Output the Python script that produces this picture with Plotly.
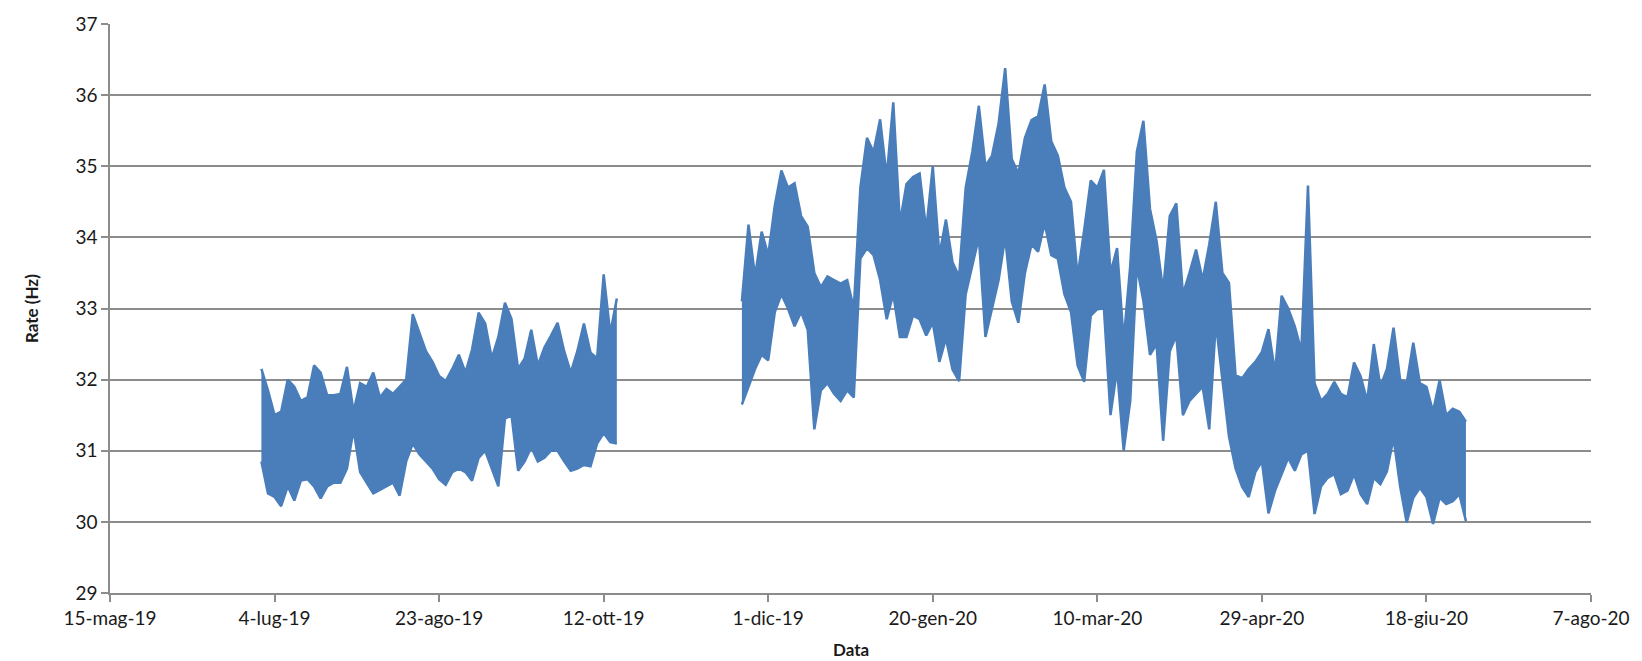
import pandas as pd
import plotly.graph_objects as go

# Rate envelope (max / min over each 2-day bin), Hz
seg1_start = "2019-06-30"
seg1_hi = [32.15, 31.85, 31.5, 31.55, 32.0, 31.9, 31.7, 31.75, 32.2, 32.1,
           31.78, 31.78, 31.8, 32.18, 31.55, 31.95, 31.9, 32.1, 31.75, 31.87,
           31.8, 31.9, 32.0, 32.92, 32.65, 32.4, 32.25, 32.05, 31.98, 32.15,
           32.35, 32.1, 32.42, 32.94, 32.79, 32.3, 32.6, 33.08, 32.85, 32.15,
           32.3, 32.7, 32.2, 32.45, 32.62, 32.8, 32.4, 32.1, 32.4, 32.79,
           32.38, 32.3, 33.48, 32.65, 33.14]
seg1_lo = [30.85, 30.4, 30.35, 30.22, 30.5, 30.3, 30.58, 30.6, 30.5, 30.33,
           30.5, 30.55, 30.55, 30.75, 31.3, 30.7, 30.55, 30.4, 30.45, 30.5,
           30.55, 30.37, 30.85, 31.1, 30.95, 30.85, 30.75, 30.6, 30.52, 30.7,
           30.75, 30.7, 30.58, 30.9, 31.0, 30.75, 30.5, 31.45, 31.5, 30.72,
           30.85, 31.05, 30.85, 30.9, 31.0, 31.0, 30.85, 30.72, 30.75, 30.8,
           30.78, 31.1, 31.25, 31.12, 31.1]

seg2_start = "2019-11-23"
seg2_hi = [33.1, 34.18, 33.45, 34.08, 33.75, 34.45, 34.94, 34.7, 34.76, 34.3,
           34.15, 33.5, 33.3, 33.45, 33.4, 33.35, 33.4, 33.0, 34.7, 35.4,
           35.2, 35.66, 34.85, 35.9, 34.2, 34.75, 34.85, 34.9,
           34.1, 35.0, 33.75, 34.25, 33.65, 33.45, 34.7, 35.2, 35.85, 35.0,
           35.15, 35.6, 36.38, 35.1, 34.9, 35.4, 35.65, 35.7, 36.15, 35.35,
           35.15, 34.7, 34.5, 33.45, 34.1, 34.8, 34.7, 34.95,
           33.5, 33.85, 32.55, 33.6, 35.2, 35.64, 34.4, 33.95, 33.25, 34.3,
           34.48, 33.2, 33.5, 33.83, 33.4, 33.9, 34.5, 33.5, 33.36, 32.06,
           32.02, 32.15, 32.25, 32.39, 32.71, 32.1, 33.18, 33.0, 32.75,
           32.4, 34.73, 31.95, 31.7, 31.8, 31.97, 31.8, 31.75, 32.24, 32.05,
           31.7, 32.5, 31.9, 32.15, 32.73, 32.0, 31.95, 32.52, 31.95, 31.9,
           31.55, 31.99, 31.5, 31.59, 31.55, 31.41]
seg2_lo = [31.65, 31.9, 32.15, 32.35, 32.27, 32.95, 33.2, 33.0, 32.75, 32.95,
           32.7, 31.3, 31.85, 31.95, 31.8, 31.7, 31.85, 31.75, 33.7, 33.85,
           33.75, 33.4, 32.85, 33.2, 32.6, 32.6, 32.9, 32.85,
           32.62, 32.8, 32.25, 32.58, 32.14, 31.98, 33.2, 33.6, 34.0, 32.6,
           33.0, 33.4, 34.0, 33.1, 32.8, 33.5, 33.9, 33.8, 34.2, 33.75,
           33.7, 33.2, 32.95, 32.2, 31.97, 32.9, 32.99, 33.0,
           31.5, 32.15, 31.0, 31.7, 33.6, 33.1, 32.35, 32.5, 31.14, 32.4,
           32.62, 31.5, 31.7, 31.8, 31.9, 31.3, 32.8, 32.0, 31.2, 30.75,
           30.49, 30.35, 30.7, 30.85, 30.12, 30.44, 30.67, 30.9, 30.72,
           30.95, 31.0, 30.11, 30.5, 30.62, 30.67, 30.39, 30.44, 30.67, 30.39,
           30.25, 30.62, 30.53, 30.71, 31.18, 30.5, 29.99, 30.34, 30.48, 30.35,
           29.97, 30.34, 30.25, 30.29, 30.39, 30.01]

tick_dates = ["2019-05-15", "2019-07-04", "2019-08-23", "2019-10-12", "2019-12-01",
              "2020-01-20", "2020-03-10", "2020-04-29", "2020-06-18", "2020-08-07"]
tick_labels = ["15-mag-19", "4-lug-19", "23-ago-19", "12-ott-19", "1-dic-19",
               "20-gen-20", "10-mar-20", "29-apr-20", "18-giu-20", "7-ago-20"]
y_ticks = [29, 30, 31, 32, 33, 34, 35, 36, 37]

BLUE = "#4a7ebb"
GRID = "#8c8c8c"
FONT = "Lato"

fig = go.Figure()
for start, hi, lo in [(seg1_start, seg1_hi, seg1_lo), (seg2_start, seg2_hi, seg2_lo)]:
    dates = pd.date_range(start, periods=len(hi), freq="2D")
    fig.add_trace(go.Scatter(x=dates, y=lo, mode="lines",
                             line=dict(color=BLUE, width=2.5), showlegend=False))
    fig.add_trace(go.Scatter(x=dates, y=hi, mode="lines", fill="tonexty",
                             fillcolor=BLUE, line=dict(color=BLUE, width=2.5),
                             showlegend=False))

fig.update_layout(
    width=1642, height=661,
    margin=dict(l=110, r=50, t=19, b=68),
    plot_bgcolor="white", paper_bgcolor="white",
    font=dict(family=FONT, size=19, color="#1a1a1a"),
    xaxis=dict(
        range=[tick_dates[0], tick_dates[-1]],
        tickvals=tick_dates, ticktext=tick_labels,
        showgrid=False, zeroline=False,
        showline=True, linecolor=GRID, linewidth=1.5,
        ticks="outside", ticklen=7, tickcolor=GRID, tickwidth=1.5,
        tickfont=dict(family=FONT, size=19, color="#1a1a1a"),
    ),
    yaxis=dict(
        range=[29, 37], tickvals=y_ticks,
        showgrid=True, gridcolor=GRID, gridwidth=1.5, zeroline=False,
        showline=True, linecolor=GRID, linewidth=1.5,
        ticks="outside", ticklen=7, tickcolor=GRID, tickwidth=1.5,
        tickfont=dict(family=FONT, size=19, color="#1a1a1a"),
    ),
    annotations=[
        dict(text="<b>Rate (Hz)</b>", xref="paper", yref="paper",
             x=-0.053, y=0.5, xanchor="center", yanchor="middle",
             textangle=-90, showarrow=False,
             font=dict(family=FONT, size=17, color="#1a1a1a")),
        dict(text="<b>Data</b>", xref="paper", yref="paper",
             x=0.5, y=-0.1, xanchor="center", yanchor="middle",
             showarrow=False,
             font=dict(family=FONT, size=17, color="#1a1a1a")),
    ],
)

fig.write_html("out.html")
